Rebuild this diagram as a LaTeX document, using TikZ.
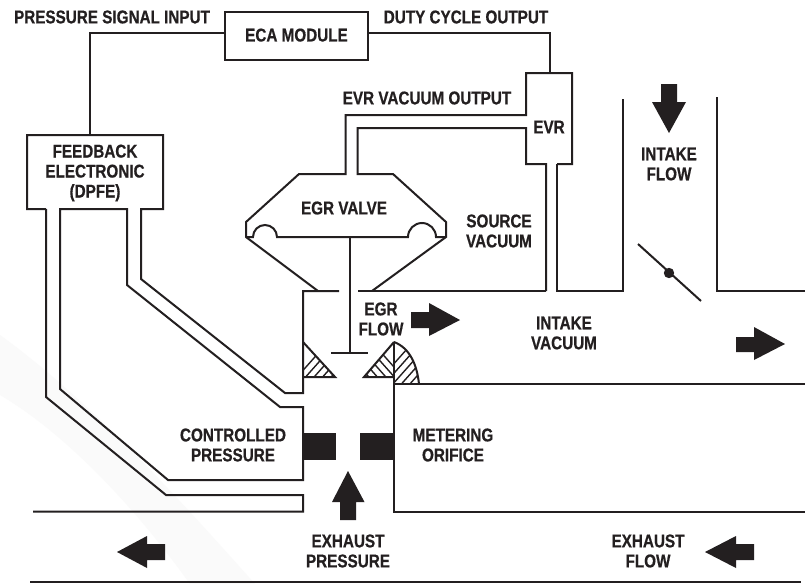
\documentclass[tikz,border=0pt]{standalone}
\usepackage{fontspec}
\newfontfamily\lblfont{Liberation Sans}[FakeStretch=0.825,BoldFeatures={FakeBold=0.6}]
\usetikzlibrary{calc}
\definecolor{ink}{RGB}{35,31,32}
\tikzset{
  pipe/.style={draw=ink,line width=2pt,line join=miter,line cap=butt},
  solid block/.style={fill=ink,draw=none},
  lbl/.style={font=\lblfont\bfseries\fontsize{18.5}{20}\selectfont,align=center,inner sep=0pt,text=ink},
  hatchline/.style={draw=ink,line width=1.4pt}
}
\begin{document}
\begin{tikzpicture}[x=1pt,y=-1pt]
\useasboundingbox (0,0) rectangle (807,584);
\fill[white] (0,0) rectangle (807,584);
% faint backdrop
\fill[black!2] (0,335) .. controls (90,400) and (180,500) .. (255,584) -- (190,584) .. controls (130,500) and (60,430) .. (0,395) -- cycle;
% boxes
\node[lbl,pipe,minimum width=143pt,minimum height=48pt] (eca) at (296.5,36) {\raisebox{2pt}{ECA MODULE}};
\coordinate (ecaL) at ($(eca.west)+(0,-3)$);
\coordinate (ecaR) at ($(eca.east)+(0,-3)$);
\draw[pipe] (ecaL) -- (90,33) -- (90,135);
\draw[pipe] (ecaR) -- (550,33) -- (550,73);
\draw[pipe] (46,209) -- (27,209) -- (27,135) -- (163,135) -- (163,209) -- (141,209) -- (141,279) -- (285,393) -- (303,393) -- (303,291) -- (339,291);
\draw[pipe] (60,209) -- (127,209) -- (127,285) -- (280,407) -- (303,407) -- (303,480) -- (168,480) -- (60,389) -- cycle;
\draw[pipe] (46,209) -- (46,397) -- (166,495) -- (303,495) -- (303,511.5) -- (33,511.5);
% EVR
\draw[pipe] (546,291) -- (546,164) -- (526,164) -- (526,128) -- (357.5,128) -- (357.5,174) -- (393,174) -- (446,222) -- (446,237) -- (372,291);
\draw[pipe] (557,164) -- (572,164) -- (572,73) -- (526,73) -- (526,115) -- (345.5,115) -- (345.5,174) -- (299,174) -- (246,222) -- (246,237) -- (318,291);
\draw[pipe] (557,164) -- (557,291) -- (623,291) -- (623,99);
\draw[pipe] (358,291) -- (546,291);
\draw[pipe] (717,97) -- (717,291) -- (805,291);
% diaphragm
\draw[pipe] (246,237) -- (253,237) arc (-180:0:12) -- (408,237) arc (-180:0:14) -- (446,237);
\draw[pipe] (350,237) -- (350,353);
\draw[pipe] (331,353) -- (368,353);
% throttle
\draw[pipe] (638,244) -- (701,301);
\fill[ink] (669,273) circle (5.2);
% hatch seats
\begin{scope}\clip (303,342) -- (335,377) -- (303,377) -- cycle;
  \foreach \k in {0,8.5,...,70}{\draw[hatchline] (290+\k,385)--(330+\k,340);}
\end{scope}
\draw[pipe] (303,342) -- (335,377) -- (303,377);
\begin{scope}\clip (394,342) -- (364,377) -- (394,377) -- cycle;
  \foreach \k in {0,8.5,...,70}{\draw[hatchline] (410-\k,385)--(370-\k,340);}
\end{scope}
\draw[pipe] (394,342) -- (364,377) -- (394,377);
\begin{scope}\clip (394,342) .. controls (410,348) and (417,365) .. (419,384) -- (394,384) -- cycle;
  \foreach \k in {0,8.5,...,70}{\draw[hatchline] (375+\k,385)--(415+\k,340);}
\end{scope}
\draw[pipe] (394,342) .. controls (410,348) and (417,365) .. (419,384);
% lower passages
\draw[pipe] (394,342) -- (394,512) -- (805,512);
\draw[pipe] (394,384) -- (805,384);
\draw[pipe] (30,582) -- (801,582);
% orifice blocks
\fill[solid block] (303,433) rectangle (336,460);
\fill[solid block] (360,433) rectangle (394,460);
% arrows
\fill[solid block] (348,471) -- (364.5,502) -- (356,502) -- (356,520) -- (340,520) -- (340,502) -- (332,502) -- cycle;
\fill[solid block] (460,320) -- (429,336) -- (429,328) -- (411,328) -- (411,312) -- (429,312) -- (429,303) -- cycle;
\fill[solid block] (669,133) -- (652,102) -- (661,102) -- (661,84) -- (677,84) -- (677,102) -- (686,102) -- cycle;
\fill[solid block] (785,344) -- (754,360) -- (754,352) -- (736,352) -- (736,337) -- (754,337) -- (754,327) -- cycle;
\fill[solid block] (117,552) -- (147,536) -- (147,544) -- (165,544) -- (165,560) -- (147,560) -- (147,568) -- cycle;
\fill[solid block] (705,552) -- (736,536) -- (736,544) -- (754,544) -- (754,560) -- (736,560) -- (736,568) -- cycle;
% labels
\node[lbl] (t1) at (112,17) {PRESSURE SIGNAL INPUT};
\node[lbl] (t2) at (466,17) {DUTY CYCLE OUTPUT};
\node[lbl] (t3) at (427,98) {EVR VACUUM OUTPUT};
\node[lbl] (t4) at (549,127) {EVR};
\node[lbl] (t5) at (95,173) {FEEDBACK\\ELECTRONIC\\(DPFE)};
\node[lbl] (t6) at (344,208) {EGR VALVE};
\node[lbl] (t7) at (499,231) {SOURCE\\VACUUM};
\node[lbl] (t8) at (381,319) {EGR\\FLOW};
\node[lbl] (t9) at (564,333) {INTAKE\\VACUUM};
\node[lbl] (t10) at (669,164) {INTAKE\\FLOW};
\node[lbl] (t11) at (233,445) {CONTROLLED\\PRESSURE};
\node[lbl] (t12) at (453,445) {METERING\\ORIFICE};
\node[lbl] (t13) at (348,551) {EXHAUST\\PRESSURE};
\node[lbl] (t14) at (648,551) {EXHAUST\\FLOW};
\end{tikzpicture}
\end{document}
